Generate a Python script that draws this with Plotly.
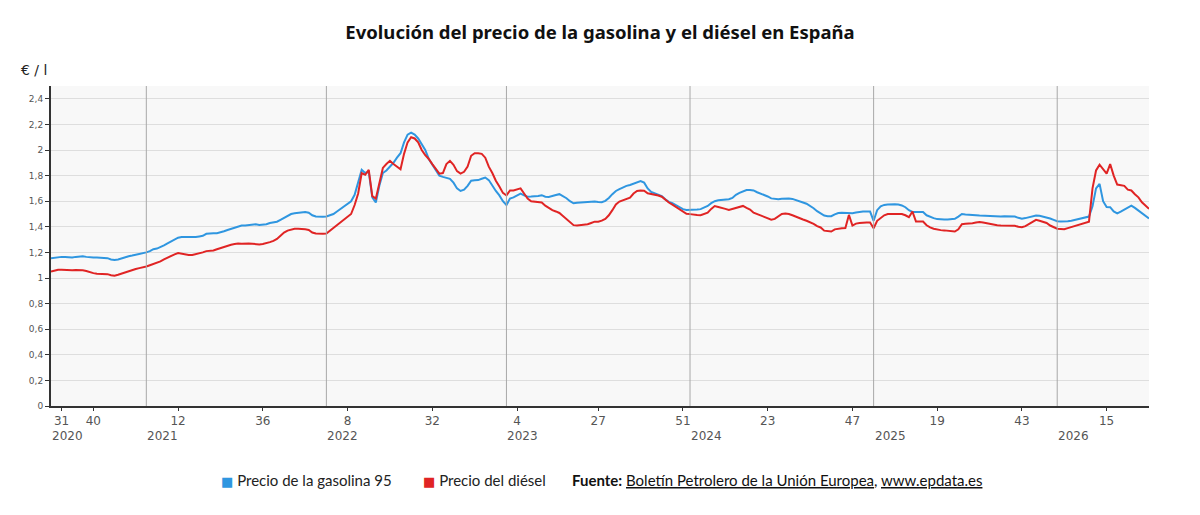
import plotly.graph_objects as go

# weekly points, one per bulletin (index = position on the axis)
gasolina = [
    1.155, 1.16, 1.165, 1.165, 1.165, 1.16, 1.16, 1.165, 1.17, 1.17, 1.165, 1.16,
    1.16, 1.16, 1.16, 1.16, 1.155, 1.145, 1.14, 1.145, 1.155, 1.16, 1.17, 1.175,
    1.18, 1.19, 1.195, 1.20, 1.21, 1.225, 1.23, 1.24, 1.255, 1.27, 1.285, 1.30,
    1.315, 1.32, 1.32, 1.32, 1.315, 1.32, 1.325, 1.33, 1.345, 1.35, 1.35, 1.35,
    1.355, 1.365, 1.375, 1.385, 1.39, 1.40, 1.41, 1.41, 1.415, 1.42, 1.42, 1.415,
    1.415, 1.42, 1.43, 1.435, 1.44, 1.455, 1.47, 1.485, 1.50, 1.505, 1.51, 1.515,
    1.515, 1.51, 1.49, 1.48, 1.478, 1.478, 1.48, 1.49, 1.50, 1.52, 1.54, 1.56,
    1.58, 1.60, 1.65, 1.74, 1.845, 1.82, 1.83, 1.63, 1.59, 1.72, 1.82, 1.84,
    1.87, 1.90, 1.94, 1.975, 2.06, 2.12, 2.135, 2.12, 2.09, 2.05, 2.00, 1.93,
    1.89, 1.845, 1.80, 1.79, 1.785, 1.775, 1.745, 1.70, 1.68, 1.69, 1.72, 1.76,
    1.763, 1.765, 1.775, 1.785, 1.765, 1.72, 1.68, 1.645, 1.60, 1.57, 1.62, 1.63,
    1.645, 1.66, 1.645, 1.635, 1.636, 1.636, 1.64, 1.647, 1.635, 1.633, 1.638, 1.648,
    1.655, 1.64, 1.623, 1.60, 1.584, 1.587, 1.59, 1.593, 1.595, 1.597, 1.597, 1.594,
    1.592, 1.603, 1.625, 1.655, 1.68, 1.695, 1.71, 1.72, 1.727, 1.737, 1.748, 1.758,
    1.745, 1.70, 1.672, 1.663, 1.655, 1.64, 1.615, 1.595, 1.585, 1.57, 1.553, 1.538,
    1.532, 1.532, 1.533, 1.535, 1.538, 1.55, 1.563, 1.585, 1.60, 1.607, 1.61, 1.613,
    1.615, 1.625, 1.65, 1.665, 1.677, 1.687, 1.688, 1.684, 1.67, 1.66, 1.648, 1.637,
    1.622, 1.617, 1.616, 1.62, 1.623, 1.621, 1.618, 1.61, 1.60, 1.59, 1.58, 1.565,
    1.545, 1.522, 1.506, 1.488, 1.483, 1.483, 1.497, 1.508, 1.51, 1.51, 1.508, 1.506,
    1.512, 1.517, 1.519, 1.519, 1.519, 1.447, 1.53, 1.56, 1.571, 1.574, 1.576, 1.577,
    1.574, 1.567, 1.553, 1.53, 1.516, 1.514, 1.517, 1.515, 1.49, 1.476, 1.468, 1.46,
    1.457, 1.457, 1.458, 1.459, 1.462, 1.48, 1.50, 1.497, 1.493, 1.492, 1.49, 1.488,
    1.486, 1.484, 1.483, 1.482, 1.481, 1.481, 1.482, 1.483, 1.482, 1.48, 1.47, 1.463,
    1.468, 1.475, 1.482, 1.488, 1.486, 1.48, 1.475, 1.465, 1.454, 1.443, 1.441, 1.441,
    1.443, 1.448, 1.454, 1.46, 1.466, 1.472, 1.48, 1.56, 1.70, 1.735, 1.60, 1.555,
    1.553, 1.52, 1.505, 1.518, 1.535, 1.55, 1.566, 1.548, 1.527, 1.505, 1.485, 1.465,
]

diesel = [
    1.05, 1.06, 1.065, 1.065, 1.063, 1.06, 1.06, 1.062, 1.062, 1.06, 1.055, 1.045,
    1.038, 1.034, 1.032, 1.032, 1.03, 1.022, 1.018, 1.025, 1.035, 1.045, 1.05, 1.06,
    1.07, 1.077, 1.082, 1.09, 1.10, 1.11, 1.115, 1.13, 1.145, 1.16, 1.175, 1.185,
    1.195, 1.19, 1.18, 1.18, 1.18, 1.185, 1.19, 1.20, 1.21, 1.212, 1.215, 1.225,
    1.235, 1.245, 1.25, 1.26, 1.265, 1.27, 1.268, 1.27, 1.27, 1.268, 1.263, 1.262,
    1.265, 1.27, 1.28, 1.29, 1.305, 1.33, 1.355, 1.37, 1.38, 1.385, 1.385, 1.385,
    1.38, 1.375, 1.355, 1.347, 1.345, 1.345, 1.348, 1.37, 1.39, 1.41, 1.43, 1.455,
    1.475, 1.50, 1.57, 1.66, 1.82, 1.806, 1.845, 1.64, 1.62, 1.75, 1.86, 1.89,
    1.915, 1.89, 1.87, 1.85, 1.97, 2.06, 2.10, 2.09, 2.06, 2.00, 1.96, 1.93,
    1.89, 1.85, 1.815, 1.82, 1.89, 1.915, 1.885, 1.835, 1.815, 1.83, 1.87, 1.955,
    1.975, 1.975, 1.97, 1.94, 1.87, 1.82, 1.76, 1.715, 1.665, 1.645, 1.684, 1.684,
    1.69, 1.70, 1.66, 1.62, 1.60, 1.595, 1.592, 1.59, 1.565, 1.545, 1.53, 1.52,
    1.508, 1.485, 1.459, 1.435, 1.413, 1.41, 1.413, 1.416, 1.42, 1.43, 1.44, 1.44,
    1.448, 1.462, 1.49, 1.53, 1.575, 1.597, 1.608, 1.62, 1.628, 1.66, 1.68, 1.683,
    1.682, 1.662, 1.656, 1.655, 1.645, 1.635, 1.61, 1.59, 1.573, 1.555, 1.538, 1.52,
    1.502, 1.499, 1.498, 1.492, 1.49, 1.497, 1.51, 1.54, 1.562, 1.555, 1.55, 1.54,
    1.532, 1.54, 1.55, 1.558, 1.563, 1.548, 1.535, 1.51, 1.50, 1.49, 1.48, 1.468,
    1.456, 1.462, 1.483, 1.50, 1.503, 1.50, 1.49, 1.477, 1.467, 1.457, 1.447, 1.437,
    1.423, 1.405, 1.395, 1.37, 1.364, 1.363, 1.38, 1.386, 1.389, 1.39, 1.493, 1.41,
    1.425, 1.43, 1.433, 1.433, 1.433, 1.389, 1.447, 1.47, 1.49, 1.50, 1.501, 1.501,
    1.501, 1.50, 1.49, 1.475, 1.519, 1.441, 1.441, 1.441, 1.412, 1.395, 1.385, 1.378,
    1.374, 1.372, 1.37, 1.366, 1.363, 1.38, 1.42, 1.423, 1.423, 1.428, 1.433, 1.438,
    1.433, 1.427, 1.423, 1.418, 1.412, 1.41, 1.41, 1.41, 1.41, 1.408, 1.40, 1.396,
    1.405, 1.42, 1.44, 1.454, 1.447, 1.438, 1.43, 1.41, 1.395, 1.385, 1.383, 1.381,
    1.39, 1.398, 1.405, 1.413, 1.42, 1.43, 1.44, 1.70, 1.84, 1.885, 1.85, 1.815,
    1.89, 1.80, 1.73, 1.725, 1.72, 1.69, 1.684, 1.655, 1.63, 1.592, 1.565, 1.54,
]
assert len(gasolina) == len(diesel) == 312

# week-number ticks and the first bulletin of each year
tick_pos = [3, 12, 36, 60, 84, 108, 132, 155, 179, 203, 227, 251, 275, 299]
tick_text = ["31", "40", "12", "36", "8", "32", "4", "27", "51", "23", "47", "19", "43", "15"]
year_pos = [0, 27, 78, 129, 181, 233, 285]
year_text = ["2020", "2021", "2022", "2023", "2024", "2025", "2026"]

y_vals = [0, 0.2, 0.4, 0.6, 0.8, 1, 1.2, 1.4, 1.6, 1.8, 2, 2.2, 2.4]
y_text = ["0", "0,2", "0,4", "0,6", "0,8", "1", "1,2", "1,4", "1,6", "1,8", "2", "2,2", "2,4"]

series = ["Precio de la gasolina 95", "Precio del diésel"]
BLUE = "#2f96e0"
RED = "#e02424"
semanas = list(range(len(gasolina)))

# page body has an 8px margin, so the figure is 8px smaller than the window
W, H = 1192, 507
L, T, PW, PH = 43, 78, 1098, 320

fig = go.Figure()
fig.add_trace(go.Scatter(x=semanas, y=gasolina, mode="lines", line=dict(color=BLUE, width=2),
                         name=series[0]))
fig.add_trace(go.Scatter(x=semanas, y=diesel, mode="lines", line=dict(color=RED, width=2),
                         name=series[1]))

for p in year_pos[1:]:
    fig.add_vline(x=p, line=dict(color="#a8a8a8", width=1))

for p, t in zip(year_pos, year_text):
    fig.add_annotation(x=p, y=0, xref="x", yref="paper", text=t, showarrow=False,
                       xanchor="left", yanchor="top", yshift=-21, xshift=-1,
                       font=dict(family="DejaVu Sans", size=12, color="#555"))

fig.add_annotation(x=-32 / PW, y=1.05, xref="paper", yref="paper", text="€ / l",
                   showarrow=False, xanchor="left", yanchor="middle",
                   font=dict(family="DejaVu Sans", size=14, color="#222"))

# legend row: square keys, then the source line
legend_y = -74 / PH
for x_px, name, col in [(219, series[0], BLUE), (421, series[1], RED)]:
    fig.add_annotation(x=(x_px - 51) / PW, y=legend_y, xref="paper", yref="paper",
                       text=f"<span style='font-family:DejaVu Sans;font-size:13px;color:{col}'>■</span> {name}",
                       showarrow=False, xanchor="left", yanchor="middle",
                       font=dict(family="Lato", size=15, color="#222"))

fig.add_annotation(x=(570 - 51) / PW, y=legend_y, xref="paper", yref="paper",
                   text="<b>Fuente:</b> <span style='text-decoration:underline'>Boletín Petrolero de la Unión Europea</span>, "
                        "<span style='text-decoration:underline'>www.epdata.es</span>",
                   showarrow=False, xanchor="left", yanchor="middle",
                   font=dict(family="Lato", size=15, color="#111"))

fig.update_layout(
    width=W, height=H,
    margin=dict(l=L, r=W - L - PW, t=T, b=H - T - PH),
    paper_bgcolor="white", plot_bgcolor="#f8f8f8",
    showlegend=False,
    title=dict(text="<b>Evolución del precio de la gasolina y el diésel en España</b>",
               x=592 / W, xanchor="center", y=1 - 25 / H, yanchor="middle",
               font=dict(family="Noto Sans", size=18.5, color="#111")),
    xaxis=dict(range=[0, 311], tickmode="array", tickvals=tick_pos, ticktext=tick_text,
               showgrid=False, zeroline=False, showline=True, linecolor="#333", linewidth=2,
               ticks="outside", ticklen=3, tickcolor="#333",
               tickfont=dict(family="DejaVu Sans", size=12, color="#555")),
    yaxis=dict(range=[0, 2.5], tickmode="array", tickvals=y_vals, ticktext=y_text,
               showgrid=True, gridcolor="#dedede", gridwidth=1, zeroline=False,
               showline=True, linecolor="#333", linewidth=2,
               ticks="outside", ticklen=4, tickcolor="#333",
               tickfont=dict(family="DejaVu Sans", size=9, color="#555")),
)

fig.write_html("out.html")
